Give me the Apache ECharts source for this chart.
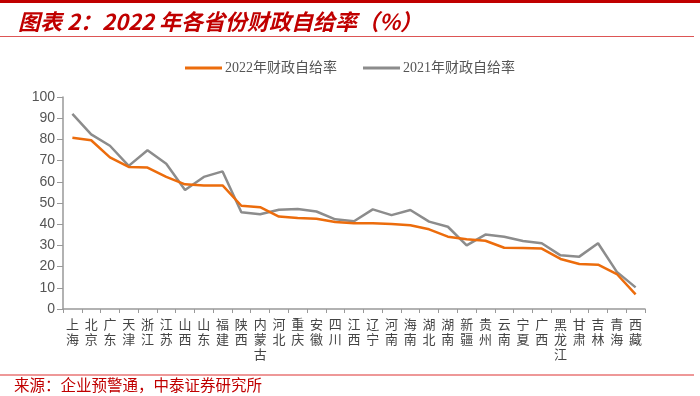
<!DOCTYPE html>
<html>
<head>
<meta charset="utf-8">
<script src="https://cdn.jsdelivr.net/npm/echarts@6/dist/echarts.min.js"></script>
<style>
  html, body { margin: 0; padding: 0; background: #fff; }
  #chart { width: 700px; height: 396px; }
</style>
</head>
<body>
<div id="chart"></div>
<script>
const provinces = ['上海', '北京', '广东', '天津', '浙江', '江苏', '山西', '山东', '福建', '陕西',
  '内蒙古', '河北', '重庆', '安徽', '四川', '江西', '辽宁', '河南', '海南', '湖北',
  '湖南', '新疆', '贵州', '云南', '宁夏', '广西', '黑龙江', '甘肃', '吉林', '青海', '西藏']

const rate2022 = [80.8, 79.6, 71.5, 67.0, 66.7, 62.3, 58.8, 58.3, 58.3, 48.7,
  48.0, 43.6, 42.9, 42.6, 41.0, 40.4, 40.4, 40.1, 39.5, 37.6,
  34.1, 32.9, 32.2, 28.9, 28.8, 28.5, 23.6, 21.2, 20.9, 16.5, 6.9]

const rate2021 = [92.0, 82.4, 77.0, 67.5, 74.9, 68.5, 56.1, 62.3, 64.9, 45.6,
  44.7, 46.8, 47.2, 46.0, 42.3, 41.4, 47.0, 44.3, 46.7, 41.2,
  38.8, 30.0, 35.1, 34.1, 32.1, 31.0, 25.3, 24.7, 31.0, 17.5, 10.2]

const yTicks = { min: 0, max: 100, interval: 10 }

const red = '#C00000'
const orange = '#EC6C0C'
const gray = '#8C8C8C'

var myChart = echarts.init(document.getElementById('chart'))

const option = {
  animation: false,
  title: {
    text: '图表 2：2022 年各省份财政自给率（%）',
    left: 13,
    top: 6,
    textStyle: {
      color: red,
      fontSize: 22,
      fontWeight: 'bold',
      fontStyle: 'italic',
      fontFamily: 'Noto Sans CJK SC'
    }
  },
  graphic: [
    { type: 'rect', shape: { x: 0, y: 0, width: 700, height: 3 }, style: { fill: red } },
    { type: 'line', shape: { x1: 0, y1: 36.5, x2: 694, y2: 36.5 }, style: { stroke: '#D55', lineWidth: 1 } },
    { type: 'line', shape: { x1: 0, y1: 375, x2: 694, y2: 375 }, style: { stroke: '#D33', lineWidth: 1.2 } },
    {
      type: 'text', left: 14, top: 377,
      style: { text: '来源：企业预警通，中泰证券研究所', fill: red, font: '15.5px "Noto Sans CJK SC"' }
    }
  ],
  legend: {
    top: 56,
    left: 'center',
    itemWidth: 37,
    itemHeight: 3,
    itemGap: 26,
    icon: 'rect',
    textStyle: { color: '#555', fontSize: 14, padding: [0, 0, 0, -2], fontFamily: 'Liberation Serif, Noto Sans CJK SC' },
    data: ['2022年财政自给率', '2021年财政自给率']
  },
  grid: { left: 63, right: 55, top: 97, bottom: 87 },
  xAxis: {
    type: 'category',
    data: provinces,
    boundaryGap: true,
    axisLine: { lineStyle: { color: '#999', width: 1.5 } },
    axisTick: { show: true, length: 4, lineStyle: { color: '#999' } },
    axisLabel: {
      interval: 0,
      color: '#444',
      fontSize: 13,
      lineHeight: 15,
      margin: 8,
      fontFamily: 'Noto Sans CJK SC',
      formatter: (v) => v.split('').join('\n')
    }
  },
  yAxis: {
    type: 'value',
    min: yTicks.min,
    max: yTicks.max,
    interval: yTicks.interval,
    splitLine: { show: false },
    axisLine: { show: true, lineStyle: { color: '#999', width: 1.5 } },
    axisTick: { show: true, length: 6, lineStyle: { color: '#999' } },
    axisLabel: { color: '#555', fontSize: 14, margin: 8, fontFamily: 'Liberation Sans' }
  },
  series: [
    {
      name: '2022年财政自给率',
      type: 'line',
      data: rate2022,
      symbol: 'none',
      z: 3,
      lineStyle: { color: orange, width: 2.5 },
      itemStyle: { color: orange }
    },
    {
      name: '2021年财政自给率',
      type: 'line',
      data: rate2021,
      symbol: 'none',
      z: 2,
      lineStyle: { color: gray, width: 2.5 },
      itemStyle: { color: gray }
    }
  ]
}

myChart.setOption(option)
</script>
</body>
</html>
